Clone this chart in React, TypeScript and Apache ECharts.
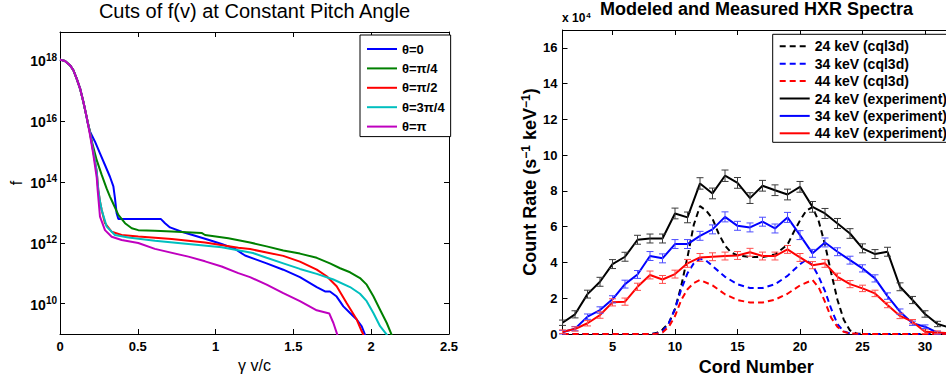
import React, { useEffect, useRef } from 'react';
import * as echarts from 'echarts';

const FONT = '"Liberation Sans", Arial, Helvetica, sans-serif';

// ---------- Left chart: cuts of f(v) at constant pitch angle ----------
const legendLeft = ['θ=0', 'θ=π/4', 'θ=π/2', 'θ=3π/4', 'θ=π'];
const colorsLeft = ['#0000ff', '#008000', '#ff0000', '#00bfbf', '#bf00bf'];
const xTicksLeft = [0, 0.5, 1, 1.5, 2, 2.5];
const yTicksLeft = [1e10, 1e12, 1e14, 1e16, 1e18];

const maxwellCore: [number, number][] = [
  [0, 1.05e18], [0.032, 9.5e17], [0.064, 6.9e17], [0.086, 4.7e17], [0.107, 2.5e17],
  [0.129, 1.17e17], [0.15, 4.3e16], [0.171, 1.38e16],
];
const theta0Tail: [number, number][] = [
  [0.176, 9.5e15], [0.193, 4.5e15], [0.225, 2.1e15], [0.257, 8.7e14], [0.289, 3.6e14],
  [0.321, 1.48e14], [0.343, 7.1e13], [0.353, 3.0e13], [0.364, 9.3e12], [0.375, 6.0e12],
  [0.649, 6.0e12], [0.675, 4.4e12], [0.707, 3.2e12], [0.782, 2.3e12], [0.868, 1.7e12],
  [0.953, 1.26e12], [1.039, 9.1e11], [1.125, 6.3e11], [1.189, 3.8e11], [1.253, 2.9e11],
  [1.328, 2.1e11], [1.435, 1.3e11], [1.542, 7.4e10], [1.65, 3.5e10], [1.703, 2.5e10],
  [1.735, 2.5e10], [1.778, 1.7e10], [1.821, 8.1e9], [1.864, 4.9e9], [1.907, 3.0e9],
  [1.939, 1.8e9], [1.96, 9.5e8], [1.975, 6e8],
];
const thetaQuarterTail: [number, number][] = [
  [0.193, 4.3e15], [0.204, 2.2e15], [0.236, 5.2e14], [0.268, 1.7e14], [0.3, 6.0e13],
  [0.321, 3.3e13], [0.332, 2.5e13], [0.375, 8.3e12], [0.418, 4.4e12], [0.461, 3.0e12],
  [0.503, 2.6e12], [0.61, 2.5e12], [0.718, 2.35e12], [0.91, 2.1e12], [0.932, 1.8e12],
  [1.082, 1.4e12], [1.221, 1.02e12], [1.328, 7.6e11], [1.435, 5.6e11], [1.542, 4.4e11],
  [1.65, 3.2e11], [1.735, 2.1e11], [1.8, 1.45e11], [1.864, 1.07e11], [1.928, 6.9e10],
  [1.971, 4.2e10], [2.014, 1.74e10], [2.057, 6.3e9], [2.1, 2.3e9], [2.131, 9.5e8], [2.14, 7e8],
];
const thetaHalfTail: [number, number][] = [
  [0.193, 4.0e15], [0.214, 1.0e15], [0.236, 2.2e14], [0.246, 5.5e13], [0.257, 2.3e13],
  [0.268, 1.2e13], [0.289, 4.4e12], [0.332, 2.3e12], [0.396, 1.8e12], [0.503, 1.6e12],
  [0.718, 1.32e12], [0.932, 1.02e12], [1.146, 6.8e11], [1.221, 6.2e11], [1.328, 4.8e11],
  [1.435, 3.7e11], [1.542, 2.4e11], [1.65, 1.3e11], [1.714, 7.9e10], [1.778, 3.7e10],
  [1.842, 1.05e10], [1.907, 3.0e9], [1.939, 1.23e9], [1.95, 9.5e8], [1.96, 7e8],
];
const thetaThreeQuarterTail: [number, number][] = [
  [0.193, 4.0e15], [0.214, 1.0e15], [0.236, 2.2e14], [0.246, 5.5e13], [0.257, 2.3e13],
  [0.268, 1.2e13], [0.3, 3.4e12], [0.353, 1.8e12], [0.439, 1.48e12], [0.61, 1.17e12],
  [0.825, 9.1e11], [1.039, 7.1e11], [1.24, 4.6e11], [1.328, 3.2e11], [1.435, 2.1e11],
  [1.542, 1.38e11], [1.65, 9.5e10], [1.757, 6.2e10], [1.864, 3.5e10], [1.928, 2.1e10],
  [1.971, 1.2e10], [2.014, 4.9e9], [2.057, 1.8e9], [2.1, 9.5e8], [2.115, 7e8],
];
const thetaPiTail: [number, number][] = [
  [0.193, 3.5e15], [0.214, 8.0e14], [0.236, 1.4e14], [0.242, 5.5e13], [0.257, 7.2e12],
  [0.289, 2.6e12], [0.332, 1.58e12], [0.396, 1.23e12], [0.503, 9.8e11], [0.61, 6.3e11],
  [0.825, 3.5e11], [0.932, 2.45e11], [1.039, 1.66e11], [1.146, 1.0e11], [1.221, 7.4e10],
  [1.328, 4.2e10], [1.435, 2.2e10], [1.542, 1.2e10], [1.65, 6.0e9], [1.731, 4.7e9],
  [1.757, 2.3e9], [1.782, 9.5e8], [1.79, 7e8],
];

// ---------- Right chart: modeled and measured HXR spectra (x 10^4) ----------
const legendRight = [
  '24 keV (cql3d)', '34 keV (cql3d)', '44 keV (cql3d)',
  '24 keV (experiment)', '34 keV (experiment)', '44 keV (experiment)',
];
const colorsRight = ['#000000', '#0000ff', '#ff0000'];
const errColors = ['#3a3a3a', '#4d4dff', '#ff4d4d'];
const cords = [1, 2, 3, 4, 5, 6, 7, 8, 9, 10, 11, 12, 13, 14, 15, 16, 17, 18, 19, 20, 21, 22, 23, 24, 25, 26, 27, 28, 29, 30, 31, 32];
const xTicksRight = [5, 10, 15, 20, 25, 30];
const yTicksRight = [0, 2, 4, 6, 8, 10, 12, 14, 16];

const exp24 = [0.63, 1.1, 2.23, 2.92, 3.91, 4.32, 5.27, 5.34, 5.34, 6.74, 6.52, 8.42, 7.86, 8.85, 8.45, 7.6, 8.29, 8.04, 7.8, 8.23, 7.11, 6.74, 6.18, 5.62, 4.79, 4.47, 4.6, 2.64, 1.9, 1.12, 0.56, 0.35];
const exp34 = [0.1, 0.3, 0.97, 1.34, 1.94, 2.79, 3.33, 4.36, 4.23, 5.03, 5.03, 5.49, 5.85, 6.55, 6.05, 5.96, 6.28, 5.9, 6.52, 5.53, 4.51, 5.12, 4.6, 4.13, 3.67, 3.11, 2.12, 1.25, 0.6, 0.41, 0.07, 0.02];
const exp44 = [0.13, 0.28, 0.6, 1.06, 1.77, 1.81, 2.64, 3.3, 3.05, 3.35, 3.95, 4.28, 4.32, 4.36, 4.39, 4.57, 4.36, 4.36, 4.73, 4.28, 3.85, 3.95, 3.2, 2.79, 2.55, 2.27, 1.62, 1.01, 0.69, 0.13, 0.09, 0.05];
const err24 = [0.15, 0.2, 0.22, 0.25, 0.25, 0.25, 0.25, 0.25, 0.25, 0.3, 0.3, 0.32, 0.3, 0.32, 0.3, 0.3, 0.3, 0.3, 0.3, 0.3, 0.3, 0.28, 0.28, 0.27, 0.25, 0.25, 0.25, 0.22, 0.2, 0.18, 0.15, 0.12];
const err34 = [0.1, 0.12, 0.15, 0.18, 0.2, 0.22, 0.22, 0.25, 0.25, 0.25, 0.25, 0.25, 0.25, 0.28, 0.25, 0.25, 0.25, 0.25, 0.28, 0.25, 0.22, 0.25, 0.22, 0.22, 0.2, 0.2, 0.18, 0.15, 0.12, 0.1, 0.08, 0.05];
const err44 = [0.1, 0.12, 0.15, 0.18, 0.2, 0.2, 0.2, 0.22, 0.22, 0.22, 0.22, 0.22, 0.22, 0.22, 0.22, 0.22, 0.22, 0.22, 0.22, 0.22, 0.2, 0.22, 0.2, 0.2, 0.18, 0.18, 0.15, 0.15, 0.12, 0.1, 0.08, 0.05];

const model24: [number, number][] = [
  [1, 0], [2, 0], [3, 0], [4, 0], [5, 0], [6, 0], [7, 0], [8, 0], [8.5, 0.05], [9, 0.25],
  [9.5, 0.6], [10, 1.4], [10.5, 2.7], [11, 4.3], [11.5, 6.1], [12, 7.15], [12.5, 6.9], [13, 6.45],
  [13.5, 5.6], [14, 4.95], [14.5, 4.55], [15, 4.4], [16, 4.3], [17, 4.3], [18, 4.45], [19, 5.0],
  [19.5, 5.7], [20, 6.35], [20.5, 6.9], [21, 7.1], [21.5, 6.3], [22, 5.0], [22.5, 3.4], [23, 1.9],
  [23.5, 0.8], [24, 0.2], [24.5, 0.03], [25, 0], [26, 0], [27, 0], [28, 0], [29, 0], [30, 0], [31, 0], [32, 0],
];
const model34: [number, number][] = [
  [1, 0], [2, 0], [3, 0], [4, 0], [5, 0], [6, 0], [7, 0], [8, 0], [8.5, 0.02], [9, 0.15],
  [9.5, 0.6], [10, 1.4], [10.5, 2.5], [11, 3.4], [11.5, 3.95], [12, 4.2], [12.5, 4.1], [13, 3.8],
  [14, 3.2], [15, 2.78], [16, 2.57], [17, 2.57], [18, 2.78], [19, 3.25], [20, 3.9], [20.5, 4.15],
  [21, 3.85], [21.5, 3.2], [22, 2.4], [22.5, 1.4], [23, 0.55], [23.5, 0.15], [24, 0.03], [25, 0],
  [26, 0], [27, 0], [28, 0], [29, 0], [30, 0], [31, 0], [32, 0],
];
const model44: [number, number][] = [
  [1, 0], [2, 0], [3, 0], [4, 0], [5, 0], [6, 0], [7, 0], [8, 0], [8.5, 0.01], [9, 0.08],
  [9.5, 0.4], [10, 1.0], [10.5, 1.9], [11, 2.5], [11.5, 2.85], [12, 3.02], [13, 2.72], [14, 2.22],
  [15, 1.9], [16, 1.76], [17, 1.76], [18, 1.92], [19, 2.25], [20, 2.72], [21, 3.02], [21.5, 2.6],
  [22, 1.8], [22.5, 0.9], [23, 0.4], [23.5, 0.12], [24, 0.03], [25, 0], [26, 0], [27, 0], [28, 0],
  [29, 0], [30, 0], [31, 0], [32, 0],
];

function buildOption() {
  const leftData = [
    [...maxwellCore, ...theta0Tail],
    [...maxwellCore, ...thetaQuarterTail],
    [...maxwellCore, ...thetaHalfTail],
    [...maxwellCore, ...thetaThreeQuarterTail],
    [...maxwellCore, ...thetaPiTail],
  ];
  const leftSeries = leftData.map((d, i) => ({
    type: 'line', name: legendLeft[i], xAxisIndex: 0, yAxisIndex: 0, data: d,
    symbol: 'none', showSymbol: false, color: colorsLeft[i],
    lineStyle: { width: 2, color: colorsLeft[i] }, z: 3,
  }));

  const models = [model24, model34, model44];
  const modelSeries = models.map((d, i) => ({
    type: 'line', name: legendRight[i], xAxisIndex: 2, yAxisIndex: 2, data: d,
    symbol: 'none', showSymbol: false, color: colorsRight[i],
    lineStyle: { width: 2, color: colorsRight[i], type: [6, 4] }, z: 3,
  }));
  const exps = [exp24, exp34, exp44];
  const errs = [err24, err34, err44];
  const expSeries = exps.map((vals, i) => ({
    type: 'line', name: legendRight[i + 3], xAxisIndex: 2, yAxisIndex: 2,
    data: cords.map((c, k) => [c, vals[k]]),
    symbol: 'none', showSymbol: false, color: colorsRight[i],
    lineStyle: { width: 2, color: colorsRight[i] }, z: 4,
  }));
  const errSeries = exps.map((vals, i) => ({
    type: 'custom', name: 'err' + i, xAxisIndex: 2, yAxisIndex: 2,
    data: cords.map((c, k) => [c, vals[k], errs[i][k]]),
    encode: { x: 0, y: 1 }, z: 5, silent: true,
    renderItem: (params: any, api: any) => {
      const x = api.value(0);
      const y = api.value(1);
      const e = api.value(2);
      const top = api.coord([x, y + e]);
      const bot = api.coord([x, y - e]);
      const hw = 3.5;
      const st = { stroke: errColors[i], lineWidth: 1 };
      return {
        type: 'group',
        children: [
          { type: 'line', shape: { x1: top[0], y1: top[1], x2: bot[0], y2: bot[1] }, style: st },
          { type: 'line', shape: { x1: top[0] - hw, y1: top[1], x2: top[0] + hw, y2: top[1] }, style: st },
          { type: 'line', shape: { x1: bot[0] - hw, y1: bot[1], x2: bot[0] + hw, y2: bot[1] }, style: st },
        ],
      };
    },
  }));

  const boldLabel = { color: '#000', fontFamily: FONT, fontWeight: 'bold', fontSize: 13 };
  const axisLine = { show: true, onZero: false, lineStyle: { color: '#000', width: 1 } };
  const tick = (vals: number[]) => ({ show: true, inside: true, length: 5, lineStyle: { color: '#000' }, customValues: vals });

  const logRich = {
    b: { fontFamily: FONT, fontWeight: 'bold', fontSize: 14, color: '#000', verticalAlign: 'bottom' },
    s: { fontFamily: FONT, fontWeight: 'bold', fontSize: 10, color: '#000', verticalAlign: 'top', padding: [0, 0, 6, 0] },
  };

  return {
    animation: false,
    backgroundColor: '#fff',
    textStyle: { fontFamily: FONT },
    title: [
      {
        text: 'Cuts of f(v) at Constant Pitch Angle', left: 254.5, top: 1, textAlign: 'center', padding: 0,
        textStyle: { fontFamily: FONT, fontWeight: 'normal', fontSize: 20, color: '#000' },
      },
      {
        text: 'Modeled and Measured HXR Spectra', left: 756.5, top: 0, textAlign: 'center', padding: 0,
        textStyle: { fontFamily: FONT, fontWeight: 'bold', fontSize: 18, color: '#000' },
      },
      {
        text: '{a|x 10}{s|4}', left: 562, top: 11, padding: 0,
        textStyle: {
          rich: {
            a: { fontFamily: FONT, fontWeight: 'bold', fontSize: 12, color: '#000', verticalAlign: 'bottom' },
            s: { fontFamily: FONT, fontWeight: 'bold', fontSize: 8, color: '#000', verticalAlign: 'top', padding: [0, 0, 5, 1] },
          },
        },
      },
    ],
    legend: [
      {
        data: legendLeft, orient: 'vertical', left: 360, top: 35, itemWidth: 30, itemHeight: 14, itemGap: 5.4,
        padding: [7, 6, 3, 6], borderColor: '#000', borderWidth: 1, backgroundColor: '#fff', selectedMode: false,
        itemStyle: { color: 'rgba(0,0,0,0)', borderWidth: 0 },
        textStyle: { fontFamily: FONT, fontWeight: 'bold', fontSize: 13, color: '#000', lineHeight: 14 },
      },
      {
        data: legendRight, orient: 'vertical', left: 772.7, top: 34.3, itemWidth: 30, itemHeight: 14, itemGap: 3.4,
        padding: [5, 6, 2, 6], borderColor: '#000', borderWidth: 1, backgroundColor: '#fff', selectedMode: false,
        itemStyle: { color: 'rgba(0,0,0,0)', borderWidth: 0 },
        textStyle: { fontFamily: FONT, fontWeight: 'bold', fontSize: 14, color: '#000', lineHeight: 14 },
      },
    ],
    grid: [
      { left: 60, top: 32, width: 389, height: 302, outerBoundsMode: 'none', containLabel: false },
      { left: 562.5, top: 30, width: 387.5, height: 304, outerBoundsMode: 'none', containLabel: false },
    ],
    xAxis: [
      {
        type: 'value', gridIndex: 0, min: 0, max: 2.5, interval: 0.5,
        axisLine, axisTick: tick(xTicksLeft), splitLine: { show: false },
        axisLabel: { ...boldLabel, margin: 6, customValues: xTicksLeft },
        name: 'γ v/c', nameLocation: 'middle', nameGap: 19,
        nameTextStyle: { fontFamily: FONT, fontWeight: 'normal', fontSize: 16, color: '#000' },
      },
      {
        type: 'value', gridIndex: 0, position: 'top', min: 0, max: 2.5, interval: 0.5,
        axisLine, axisTick: tick(xTicksLeft), axisLabel: { show: false }, splitLine: { show: false },
      },
      {
        type: 'value', gridIndex: 1, min: 1, max: 32,
        axisLine, axisTick: tick(xTicksRight), splitLine: { show: false },
        axisLabel: { ...boldLabel, margin: 6, customValues: xTicksRight },
        name: 'Cord Number', nameLocation: 'middle', nameGap: 19,
        nameTextStyle: { fontFamily: FONT, fontWeight: 'bold', fontSize: 18, color: '#000' },
      },
      {
        type: 'value', gridIndex: 1, position: 'top', min: 1, max: 32,
        axisLine, axisTick: tick(xTicksRight), axisLabel: { show: false }, splitLine: { show: false },
      },
    ],
    yAxis: [
      {
        type: 'log', logBase: 10, gridIndex: 0, min: 1e9, max: 8.5e18,
        axisLine, axisTick: tick(yTicksLeft), splitLine: { show: false }, minorTick: { show: false },
        axisLabel: {
          margin: 3, customValues: yTicksLeft, rich: logRich,
          formatter: (v: number) => `{b|10}{s|${Math.round(Math.log10(v))}}`,
        },
        name: 'f', nameLocation: 'middle', nameGap: 36,
        nameTextStyle: { fontFamily: FONT, fontWeight: 'normal', fontSize: 16, color: '#000' },
      },
      {
        type: 'log', logBase: 10, gridIndex: 0, position: 'right', min: 1e9, max: 8.5e18,
        axisLine, axisTick: tick(yTicksLeft), axisLabel: { show: false }, splitLine: { show: false },
      },
      {
        type: 'value', gridIndex: 1, min: 0, max: 17,
        axisLine, axisTick: tick(yTicksRight), splitLine: { show: false },
        axisLabel: { ...boldLabel, margin: 5, customValues: yTicksRight },
        name: '{a|Count Rate (s}{s|−1}{a| keV}{s|−1}{a|)}', nameLocation: 'middle', nameGap: 24,
        nameTextStyle: {
          rich: {
            a: { fontFamily: FONT, fontWeight: 'bold', fontSize: 18, color: '#000', verticalAlign: 'bottom' },
            s: { fontFamily: FONT, fontWeight: 'bold', fontSize: 12, color: '#000', verticalAlign: 'top', padding: [0, 0, 7, 0] },
          },
        },
      },
    ],
    series: [...leftSeries, ...modelSeries, ...expSeries, ...errSeries],
  };
}

export default function App() {
  const ref = useRef<HTMLDivElement>(null);
  useEffect(() => {
    document.body.style.margin = '0';
    const chart = echarts.init(ref.current!, null, { renderer: 'svg' });
    chart.setOption(buildOption() as any);
    return () => chart.dispose();
  }, []);
  return <div ref={ref} style={{ width: 946, height: 379 }} />;
}
